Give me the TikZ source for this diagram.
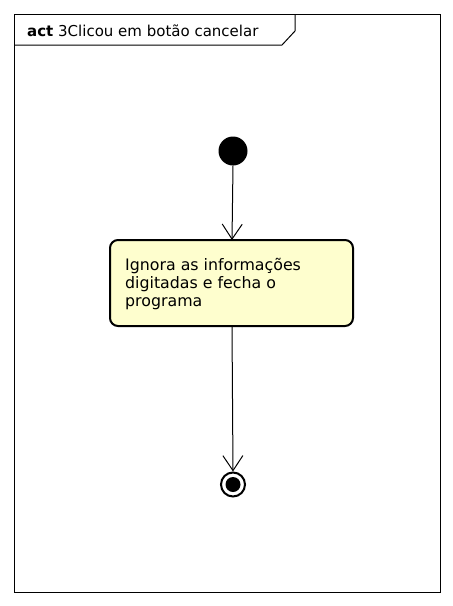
\documentclass[tikz,border=0pt]{standalone}
\usepackage{fontspec}
\setmainfont{DejaVu Sans}
\usetikzlibrary{arrows.meta}
\definecolor{actfill}{HTML}{FEFECE}
\tikzset{
  frameline/.style={draw=black, line width=1pt},
  actbox/.style={draw=black, line width=2pt, fill=actfill, rounded corners=8pt},
  flow/.style={draw=black, line width=1pt, -{Straight Barb[length=15pt,width=20pt,line width=1pt]}},
}
\begin{document}
\begin{tikzpicture}[x=1pt,y=-1pt]
\useasboundingbox (0,0) rectangle (453,606);
\fill[white] (0,0) rectangle (453,606);
% frame
\draw[frameline] (14,14) rectangle (440,592);
\draw[frameline] (14,45) -- (282,45) -- (295,31) -- (295,14);
\node[anchor=base west, inner sep=0pt, font=\fontsize{15}{18}\selectfont] (title) at (27,36) {\textbf{act} 3Clicou em botão cancelar};
% initial node
\node[circle, fill=black, minimum size=29pt, inner sep=0pt] (start) at (233,151) {};
% action
\path[actbox] (110,240) rectangle (353,326);
\coordinate (boxtop) at (232,240);
\coordinate (boxbot) at (232,326);
\node[anchor=base west, inner sep=0pt, align=left, font=\fontsize{15.8}{18.3}\selectfont] (act) at (125,306.6) {Ignora as informações\\digitadas e fecha o\\programa};
% final node
\node[circle, draw=black, line width=2pt, fill=white, minimum size=24pt, inner sep=0pt] (end) at (233,484.5) {};
\node[circle, fill=black, minimum size=15pt, inner sep=0pt] (endin) at (233,484.5) {};
% flows
\draw[flow] (start.south) -- (boxtop);
\draw[flow] (boxbot) -- (end.north);
\end{tikzpicture}
\end{document}
